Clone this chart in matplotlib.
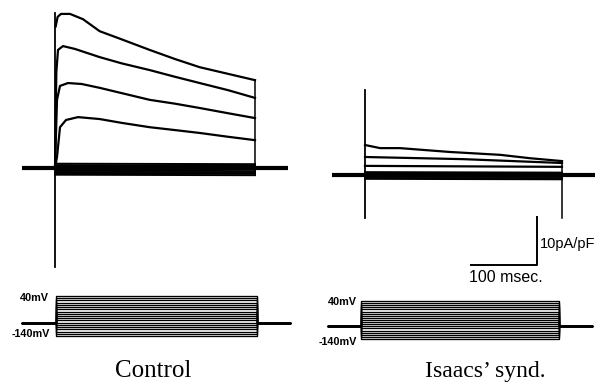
import matplotlib
matplotlib.use("Agg")
import matplotlib.pyplot as plt
import numpy as np

W, H = 601, 383

# ---------------- data (time in ms, current in pA/pF, voltage in mV) ----------------
# Control: four large outward currents (keypoints)
ctrl_t1 = [1, 4, 9, 22.5, 42, 67, 100, 142, 180, 217, 260, 300]
ctrl_i1 = [29.5, 31.5, 32.1, 32.1, 31.0, 28.5, 26.8, 24.6, 22.7, 21.0, 19.6, 18.3]
ctrl_t2 = [0, 2, 4.5, 12, 30, 67, 100, 142, 180, 217, 260, 300]
ctrl_i2 = [0, 20.0, 24.6, 25.4, 24.8, 23.1, 21.8, 20.4, 19.0, 17.7, 16.2, 14.6]
ctrl_t3 = [0, 3, 7.5, 19.5, 40, 67, 100, 142, 180, 217, 260, 300]
ctrl_i3 = [0, 14.2, 17.1, 17.7, 17.5, 16.7, 15.6, 14.2, 13.4, 12.5, 11.4, 10.4]
ctrl_t4 = [0, 3, 7.5, 16.5, 34.5, 67, 100, 142, 180, 217, 260, 300]
ctrl_i4 = [0, 2.3, 8.5, 10.0, 10.6, 10.2, 9.4, 8.5, 7.9, 7.3, 6.5, 5.8]
ctrl_small_start = [0.9, 0.6, 0.3, -0.2, -0.5, -0.8, -1.1, -1.4]
ctrl_small_end = [0.8, 0.5, 0.2, -0.1, -0.4, -0.8, -1.2, -1.5]
ctrl_transient = [32.3, -20.6]
ctrl_tail = [18.3, -1.5]

# Isaacs' syndrome: reduced currents
isa_t1 = [0, 23, 53, 129, 206, 251, 300]
isa_i1 = [6.25, 5.6, 5.6, 4.8, 4.2, 3.5, 2.9]
isa_t2 = [0, 150, 300]
isa_i2 = [3.75, 3.3, 2.5]
isa_t3 = [0, 150, 300]
isa_i3 = [1.9, 1.8, 1.7]
isa_small_start = [0.6, 0.3, 0.0, -0.3, -0.6, -0.8]
isa_small_end = [0.5, 0.2, 0.0, -0.3, -0.6, -0.9]
isa_transient = [17.7, -9.0]
isa_tail = [2.9, -9.0]

baseline_t = [-50, 350]
step_on, step_off = 0, 300

# Voltage protocol
holding_mV = -80
step_levels_mV = list(range(-140, 41, 10))

scale_ms = 100
scale_pApF = 10

# ---------------- helpers ----------------
fig = plt.figure(figsize=(W / 100, H / 100), dpi=100)
fig.patch.set_facecolor("white")


def px_axes(x0, y0, x1, y1, xlim, ylim):
    ax = fig.add_axes([x0 / W, 1 - y1 / H, (x1 - x0) / W, (y1 - y0) / H])
    ax.set_xlim(*xlim)
    ax.set_ylim(*ylim)
    ax.axis("off")
    return ax


def draw_current(ax, traces, small_s, small_e, transient, tail):
    ax.plot(baseline_t, [0, 0], color="black", lw=3.0, solid_capstyle="butt", zorder=3)
    for s, e in zip(small_s, small_e):
        ax.plot([step_on, step_off], [s, e], color="black", lw=1.4, zorder=3)
    for t, i in traces:
        ax.plot(t, i, color="black", lw=1.6, zorder=4, solid_joinstyle="round")
    ax.plot([step_on, step_on], transient, color="black", lw=1.3, zorder=4)
    ax.plot([step_off, step_off], tail, color="black", lw=1.1, zorder=4)


def draw_voltage(ax):
    for v in step_levels_mV:
        ax.plot([baseline_t[0], step_on, step_on, step_off, step_off, baseline_t[1]],
                [holding_mV, holding_mV, v, v, holding_mV, holding_mV],
                color="black", lw=0.95)


# Control current axes: t0 at x=55px, 0.6667 px/ms; zero at y=168px, 4.8 px per pA/pF
axc = px_axes(10, 0, 300, 280, ((10 - 55) / 0.6667, (300 - 55) / 0.6667), ((168 - 280) / 4.8, 168 / 4.8))
draw_current(axc, [(ctrl_t1, ctrl_i1), (ctrl_t2, ctrl_i2), (ctrl_t3, ctrl_i3), (ctrl_t4, ctrl_i4)],
             ctrl_small_start, ctrl_small_end, ctrl_transient, ctrl_tail)

# Isaacs current axes: t0 at x=365px, 0.6567 px/ms; zero at y=175px
pxms = 197 / 300
axi = px_axes(310, 0, 601, 290, ((310 - 365) / pxms, (601 - 365) / pxms), ((175 - 290) / 4.8, 175 / 4.8))
draw_current(axi, [(isa_t1, isa_i1), (isa_t2, isa_i2), (isa_t3, isa_i3)],
             isa_small_start, isa_small_end, isa_transient, isa_tail)

# scale bar
sb_t = 262
sb_i = -18.75
axi.plot([sb_t - scale_ms, sb_t, sb_t], [sb_i, sb_i, sb_i + scale_pApF], color="black", lw=1.4)
axi.text(sb_t + 4, sb_i + scale_pApF / 2 - 0.6, f"{scale_pApF}pA/pF", ha="left", va="center",
         fontsize=10.5, family="Liberation Sans")
axi.text(sb_t - scale_ms / 2 + 2, sb_i - 2.7, f"{scale_ms} msec.", ha="center", va="center",
         fontsize=11.5, family="Liberation Sans")

# Control voltage: t0 at 56px, 0.67 px/ms; 40 mV at y=296, 0.2222 px/mV
axvc = px_axes(0, 285, 300, 345, ((0 - 56) / 0.67, (300 - 56) / 0.67),
               (40 - (345 - 296) / 0.2222, 40 + (296 - 285) / 0.2222))
draw_voltage(axvc)
axvc.text(-11, 31, "40mV", ha="right", va="center", fontsize=7.8, fontweight="bold", family="Liberation Sans")
axvc.text(-9, -131, "-140mV", ha="right", va="center", fontsize=7.8, fontweight="bold", family="Liberation Sans")

# Isaacs voltage: t0 at 361px, 0.66 px/ms; 40 mV at y=301, 0.2111 px/mV
axvi = px_axes(305, 285, 601, 350, ((305 - 361) / 0.66, (601 - 361) / 0.66),
               (40 - (350 - 301) / 0.2111, 40 + (301 - 285) / 0.2111))
draw_voltage(axvi)
axvi.text(-6, 35, "40mV", ha="right", va="center", fontsize=7.8, fontweight="bold", family="Liberation Sans")
axvi.text(-6, -154, "-140mV", ha="right", va="center", fontsize=7.8, fontweight="bold", family="Liberation Sans")

# panel labels
fig.text(153 / W, 1 - 371 / H, "Control", ha="center", va="center", fontsize=18, family="Liberation Serif")
fig.text(485 / W, 1 - 371 / H, "Isaacs\u2019 synd.", ha="center", va="center", fontsize=17, family="Liberation Serif")

fig.savefig("out.png", dpi=100, facecolor="white")
